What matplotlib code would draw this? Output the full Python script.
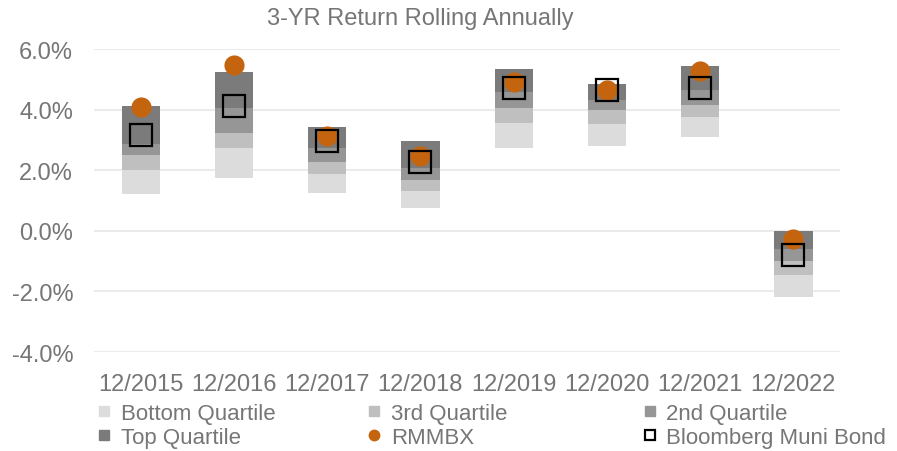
import numpy as np
import matplotlib
matplotlib.use("Agg")
import matplotlib.pyplot as plt
from matplotlib.lines import Line2D

plt.rcParams['font.family'] = ['Liberation Sans', 'DejaVu Sans']

# values in percent
categories = ['12/2015', '12/2016', '12/2017', '12/2018',
              '12/2019', '12/2020', '12/2021', '12/2022']
pct_low = [1.22, 1.76, 1.24, 0.74, 2.74, 2.80, 3.09, -2.19]
pct_25 = [2.02, 2.74, 1.88, 1.32, 3.55, 3.53, 3.75, -1.45]
pct_50 = [2.51, 3.23, 2.29, 1.68, 4.06, 3.99, 4.17, -0.98]
pct_75 = [2.87, 4.06, 2.74, 2.07, 4.60, 4.32, 4.65, -0.59]
pct_high = [4.11, 5.24, 3.42, 2.96, 5.34, 4.84, 5.44, 0.0]
rmmbx = [4.08, 5.49, 3.12, 2.47, 4.91, 4.66, 5.29, -0.26]
muni = [3.16, 4.14, 2.98, 2.29, 4.73, 4.65, 4.72, -0.81]
yticks = [-4, -2, 0, 2, 4, 6]

TXT = '#767676'
C_BOT = '#dcdcdc'
C_3RD = '#bfbfbf'
C_2ND = '#969696'
C_TOP = '#7b7b7b'
C_FUND = '#c5640f'

fig = plt.figure(figsize=(8.97, 4.52), dpi=100)
ax = fig.add_axes([0.1048, 0.219, 0.8317, 0.670])

x = np.arange(len(categories))
lo = np.array(pct_low)
q1 = np.array(pct_25)
q2 = np.array(pct_50)
q3 = np.array(pct_75)
hi = np.array(pct_high)
w = 0.41

ax.bar(x, q1 - lo, bottom=lo, width=w, color=C_BOT, zorder=2)
ax.bar(x, q2 - q1, bottom=q1, width=w, color=C_3RD, zorder=2)
ax.bar(x, q3 - q2, bottom=q2, width=w, color=C_2ND, zorder=2)
ax.bar(x, hi - q3, bottom=q3, width=w, color=C_TOP, zorder=2)

ax.plot(x, rmmbx, 'o', ms=14.5, color=C_FUND, mec='none', zorder=3)
ax.plot(x, muni, 's', ms=16.5, mfc='none', mec='black', mew=1.6, zorder=4)

ax.set_xlim(-0.5, len(categories) - 0.5)
ax.set_ylim(-4, 6)
ax.set_yticks(yticks)
ax.set_yticklabels(['%.1f%%' % v for v in yticks])
ax.set_xticks(x)
ax.set_xticklabels(categories)
ax.tick_params(axis='both', length=0, labelsize=17, colors=TXT)
ax.tick_params(axis='y', pad=15)
ax.tick_params(axis='x', pad=15)
ax.grid(axis='y', color='#ebebeb', lw=1.5, zorder=0)
for s in ax.spines.values():
    s.set_visible(False)

fig.text(0.469, 0.958, '3-YR Return Rolling Annually', ha='center', va='center',
         fontsize=17, color=TXT)

def sq(c):
    return Line2D([], [], marker='s', ms=7.5, color=c, ls='none')

groups = [
    ([sq(C_BOT), sq(C_TOP)], ['Bottom Quartile', 'Top Quartile'], 0.110),
    ([sq(C_3RD), Line2D([], [], marker='o', ms=7.5, color=C_FUND, ls='none')],
     ['3rd Quartile', 'RMMBX'], 0.411),
    ([sq(C_2ND), Line2D([], [], marker='s', ms=7.5, mfc='none', mec='black',
                        mew=1.6, ls='none')],
     ['2nd Quartile', 'Bloomberg Muni Bond'], 0.718),
]
for h, l, xpos in groups:
    leg = fig.legend(h, l, loc='upper left', bbox_to_anchor=(xpos, 0.106),
                     frameon=False, fontsize=16, handlelength=0.5,
                     handletextpad=0.5, labelspacing=0.14, borderpad=0,
                     borderaxespad=0)
    for t in leg.get_texts():
        t.set_color(TXT)

fig.savefig('out.png', dpi=100)
